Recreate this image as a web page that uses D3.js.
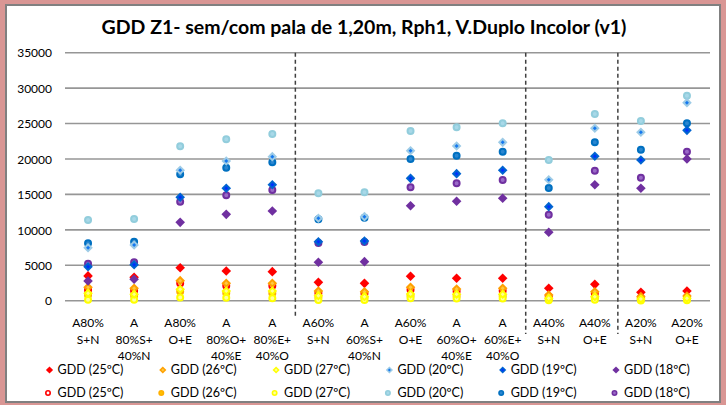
<!DOCTYPE html>
<html><head><meta charset="utf-8">
<script src="https://cdn.jsdelivr.net/npm/d3@7"></script>
<style>
html,body{margin:0;padding:0;background:#D99694;}
svg{display:block;}
text{font-family:Lato,"Open Sans",sans-serif;fill:#000;}
</style></head><body>
<svg id="chart" width="726" height="405"></svg>
<script>
const title = "GDD Z1- sem/com pala de 1,20m, Rph1, V.Duplo Incolor (v1)";
const categories = [
  ["A80%","S+N"], ["A","80%S+","40%N"], ["A80%","O+E"], ["A","80%O+","40%E"], ["A","80%E+","40%O"],
  ["A60%","S+N"], ["A","60%S+","40%N"], ["A60%","O+E"], ["A","60%O+","40%E"], ["A","60%E+","40%O"],
  ["A40%","S+N"], ["A40%","O+E"], ["A20%","S+N"], ["A20%","O+E"]
];
const yTicks = [0,5000,10000,15000,20000,25000,30000,35000];
const groupBreaks = [5,10,12];

// Diamond series
const d25 = [3500,3300,4660,4190,4100,2590,2450,3450,3160,3160,1750,2310,1180,1370];
const d26 = [1890,1750,2830,2450,2450,1370,1270,1890,1650,1750,800,1270,570,660];
const d27 = [1040,900,1610,1370,1370,710,570,950,900,900,340,570,240,340];
const d20 = [7480,7860,18400,19720,20330,11630,11860,21170,21830,22350,17080,24330,23770,27950];
const d19 = [4800,5080,14590,15860,16370,8330,8430,17270,17930,18400,13270,20380,19860,24040];
const d18 = [2780,3020,11060,12190,12660,5420,5510,13410,14030,14450,9650,16370,15860,20000];
// Circle series
const c25 = [1500,1400,2450,2120,2100,1100,1000,1550,1350,1400,600,1000,400,500];
const c26 = [800,700,1300,1100,1050,500,400,700,650,650,200,400,150,200];
const c27 = [150,120,450,430,340,100,100,330,300,300,60,150,40,80];
const c20 = [11390,11530,21790,22770,23530,15160,15300,23950,24470,25030,19860,26350,25360,28930];
const c19 = [8100,8330,17840,18780,19530,11500,11700,20000,20470,21030,15910,22350,21310,25030];
const c18 = [5200,5420,13970,14870,15620,8150,8300,16000,16560,17030,12140,18350,17360,21030];

const seriesNames = ["GDD (25ºC)","GDD (26ºC)","GDD (27ºC)","GDD (20ºC)","GDD (19ºC)","GDD (18ºC)"];

const diamondSeries = [
  {name:seriesNames[0], values:d25, outer:"#FF0000", inner:"#FF0000"},
  {name:seriesNames[1], values:d26, outer:"#FFA000", inner:"#FFC840"},
  {name:seriesNames[2], values:d27, outer:"#FFFF00", inner:"#FFFF90"},
  {name:seriesNames[3], values:d20, outer:"#9DCBE6", inner:"#1478F0"},
  {name:seriesNames[4], values:d19, outer:"#0064D0", inner:"#0030FF"},
  {name:seriesNames[5], values:d18, outer:"#7030A0", inner:"#7030A0"}
];
const circleSeries = [
  {name:seriesNames[0], values:c25, stroke:"#FF0000", fill:"#FFFFFF"},
  {name:seriesNames[1], values:c26, stroke:"#FFB000", fill:"#FFC000"},
  {name:seriesNames[2], values:c27, stroke:"#FFFF00", fill:"#FFFFA0"},
  {name:seriesNames[3], values:c20, stroke:"#92CDDC", fill:"#A8D8E8"},
  {name:seriesNames[4], values:c19, stroke:"#0070C0", fill:"#2A86D0"},
  {name:seriesNames[5], values:c18, stroke:"#7030A0", fill:"#9A6AC8"}
];

const svg = d3.select("#chart");
svg.append("rect").attr("x",6).attr("y",5).attr("width",714).attr("height",397)
  .attr("fill","#fff").attr("stroke","#808080").attr("stroke-width",2);

const plot = {left:65, right:710, top:52.7, bottom:300.7};
const x = d3.scaleBand().domain(d3.range(categories.length)).range([plot.left, plot.right]);
const y = d3.scaleLinear().domain([0,35000]).range([plot.bottom, plot.top]);

// title
svg.append("text").attr("x",364).attr("y",33.5).attr("text-anchor","middle")
  .style("font-weight","bold").style("font-size","19.5px").text(title);

// gridlines
svg.append("g").selectAll("line").data(yTicks).join("line")
  .attr("x1",plot.left).attr("x2",plot.right)
  .attr("y1",d=>y(d)).attr("y2",d=>y(d))
  .attr("stroke","#969696").attr("stroke-width",1.6);

// y axis labels
const yAxis = d3.axisLeft(y).tickValues(yTicks).tickSize(0).tickPadding(0).tickFormat(d3.format("d"));
const gy = svg.append("g").attr("transform",`translate(52,0)`).call(yAxis);
gy.select(".domain").remove();
gy.selectAll("text").style("font-size","12px").style("font-family","Lato").attr("dy","0.35em").attr("fill","#000");

// separators
svg.append("g").selectAll("line").data(groupBreaks).join("line")
  .attr("x1",d=>plot.left + x.step()*d).attr("x2",d=>plot.left + x.step()*d)
  .attr("y1",plot.top).attr("y2",(d,i)=> i===0 ? 318 : 334)
  .attr("stroke","#404040").attr("stroke-width",1.5).attr("stroke-dasharray","4,3");

// x labels
const xl = svg.append("g").selectAll("text").data(categories).join("text")
  .attr("x",(d,i)=>x(i)+x.bandwidth()/2).attr("y",327)
  .attr("text-anchor","middle").style("font-size","12px");
xl.each(function(lines){
  d3.select(this).selectAll("tspan").data(lines).join("tspan")
    .attr("x",d3.select(this).attr("x")).attr("dy",(d,i)=> i===0 ? 0 : 16.5).text(d=>d);
});

function diamondPath(r){ return `M0,${-r}L${r},0L0,${r}L${-r},0Z`; }

circleSeries.forEach(s=>{
  svg.append("g").selectAll("circle").data(s.values).join("circle")
    .attr("cx",(d,i)=>x(i)+x.bandwidth()/2).attr("cy",d=>y(d)).attr("r",3)
    .attr("fill",s.fill).attr("stroke",s.stroke).attr("stroke-width",2);
});
diamondSeries.forEach(s=>{
  const g = svg.append("g");
  const pts = g.selectAll("g").data(s.values).join("g")
    .attr("transform",(d,i)=>`translate(${x(i)+x.bandwidth()/2},${y(d)})`);
  pts.append("path").attr("d",diamondPath(4.8)).attr("fill",s.outer);
  pts.append("path").attr("d",diamondPath(2)).attr("fill",s.inner);
});

// legend
const legX0 = 49.5, legStep = 113.3;
const lg1 = svg.append("g").selectAll("g").data(diamondSeries).join("g")
  .attr("transform",(d,i)=>`translate(${legX0+i*legStep},370)`);
lg1.append("path").attr("d",diamondPath(3.6)).attr("fill",d=>d.outer);
lg1.append("path").attr("d",diamondPath(1.5)).attr("fill",d=>d.inner);
lg1.append("text").attr("x",8).attr("dy","0.35em").style("font-size","12.5px").text(d=>d.name);

const lg2 = svg.append("g").selectAll("g").data(circleSeries).join("g")
  .attr("transform",(d,i)=>`translate(${legX0-1.5+i*legStep},393)`);
lg2.append("circle").attr("r",2.2).attr("fill",d=>d.fill).attr("stroke",d=>d.stroke).attr("stroke-width",1.6);
lg2.append("text").attr("x",9.5).attr("dy","0.35em").style("font-size","12.5px").text(d=>d.name);
</script>
</body></html>
